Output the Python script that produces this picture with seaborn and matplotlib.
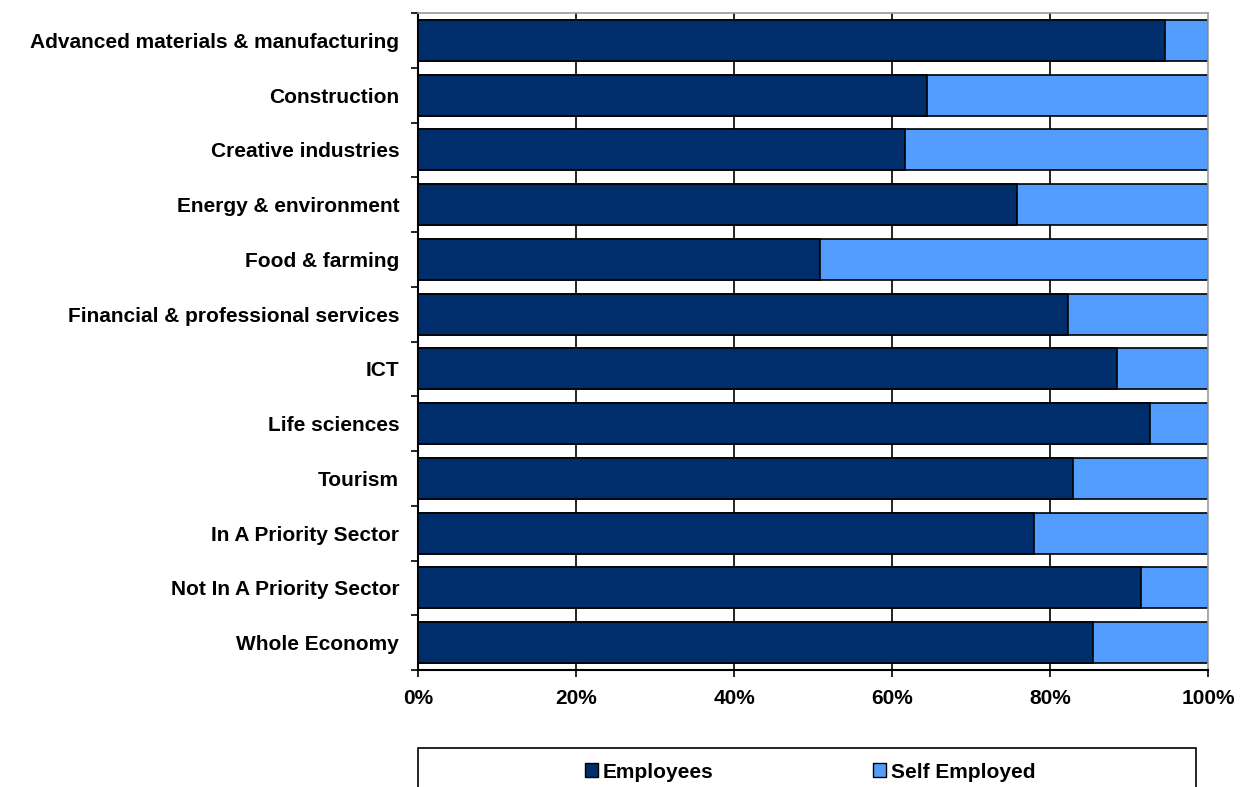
import numpy as np
import pandas as pd
import seaborn as sns
import matplotlib.pyplot as plt
from matplotlib.patches import Rectangle, Patch

sectors = [
    "Advanced materials & manufacturing",
    "Construction",
    "Creative industries",
    "Energy & environment",
    "Food & farming",
    "Financial & professional services",
    "ICT",
    "Life sciences",
    "Tourism",
    "In A Priority Sector",
    "Not In A Priority Sector",
    "Whole Economy",
]
employees = [94.5, 64.4, 61.6, 75.8, 50.9, 82.3, 88.5, 92.7, 82.9, 78.0, 91.5, 85.4]
self_employed = [5.5, 35.6, 38.4, 24.2, 49.1, 17.7, 11.5, 7.3, 17.1, 22.0, 8.5, 14.6]
x_ticks = [0, 20, 40, 60, 80, 100]
x_labels = ["0%", "20%", "40%", "60%", "80%", "100%"]

dark = "#002D6B"
light = "#539DFE"

df = pd.DataFrame({"sector": sectors, "emp": employees, "self": self_employed})
df["total"] = df["emp"] + df["self"]

sns.set_style("white")
plt.rcParams["font.family"] = ["Liberation Sans", "DejaVu Sans"]
plt.rcParams["font.weight"] = "bold"
plt.rcParams["text.color"] = "black"
plt.rcParams["xtick.color"] = "black"
plt.rcParams["ytick.color"] = "black"
plt.rcParams["xtick.labelcolor"] = "black"
plt.rcParams["ytick.labelcolor"] = "black"

fig = plt.figure(figsize=(12.41, 7.87), dpi=100)
ax = fig.add_axes([418 / 1241, 1 - 670 / 787, 790 / 1241, (670 - 13) / 787])

# stacked: full bar in light colour, employees on top in dark
sns.barplot(data=df, y="sector", x="total", color=light, orient="h", width=0.75,
            edgecolor="black", linewidth=1.2, saturation=1, ax=ax, zorder=2)
sns.barplot(data=df, y="sector", x="emp", color=dark, orient="h", width=0.75,
            edgecolor="black", linewidth=1.2, saturation=1, ax=ax, zorder=3)

ax.set_xlim(0, 100)
ax.set_ylim(len(sectors) - 0.5, -0.5)
ax.set_xlabel("")
ax.set_ylabel("")
ax.set_xticks(x_ticks)
ax.set_xticklabels(x_labels, fontsize=15, fontweight="bold")
ax.tick_params(axis="x", length=5, width=1.2, color="black", pad=9, direction="out", bottom=True)
ax.tick_params(axis="y", length=0, pad=13.5, labelsize=15)
for lab in ax.get_yticklabels():
    lab.set_fontweight("bold")
ax.set_yticks(np.arange(len(sectors) + 1) - 0.5, minor=True)
ax.tick_params(axis="y", which="minor", length=5, width=1.2, color="black", direction="out", left=True)

for x in x_ticks[1:-1]:
    ax.axvline(x, color="black", linewidth=1.2, zorder=1)

for side in ["left", "bottom"]:
    ax.spines[side].set_color("black")
    ax.spines[side].set_linewidth(1.5)
for side in ["top", "right"]:
    ax.spines[side].set_color("#999999")
    ax.spines[side].set_linewidth(1.2)

# legend box
fig.patches.append(Rectangle((418 / 1241, 1 - 800 / 787), (1196 - 418) / 1241, 52 / 787,
                             transform=fig.transFigure, facecolor="white",
                             edgecolor="black", linewidth=1.2))
handles = [Patch(facecolor=dark, edgecolor="black", label="Employees"),
           Patch(facecolor=light, edgecolor="black", label="Self Employed")]
fig.legend(handles=handles, loc="center", bbox_to_anchor=(810 / 1241, 1 - 772 / 787),
           ncol=2, frameon=False, handlelength=0.63, handleheight=0.63,
           handletextpad=0.2, columnspacing=7.7, prop={"weight": "bold", "size": 15})

fig.savefig("out.png", dpi=100)
